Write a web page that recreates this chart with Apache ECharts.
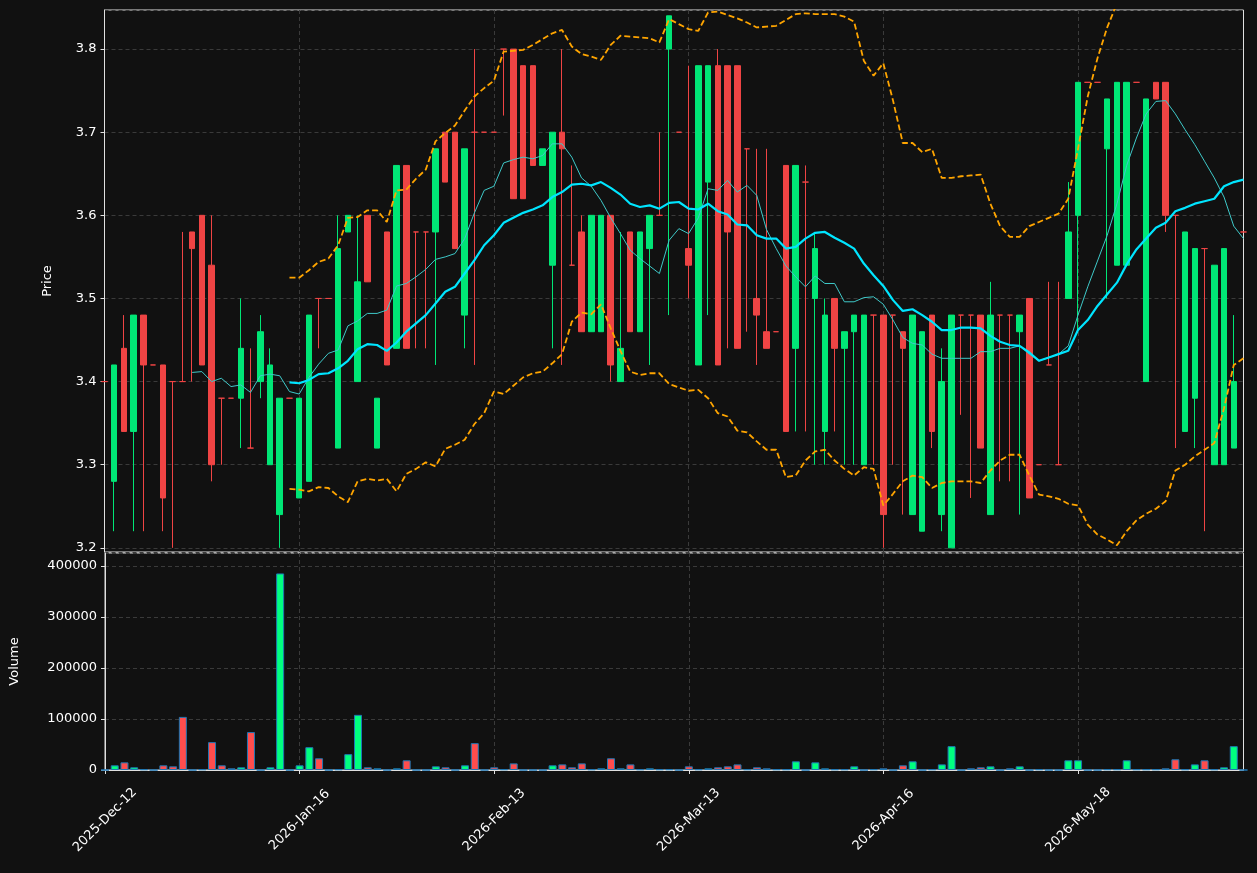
<!DOCTYPE html>
<html><head><meta charset="utf-8">
<script src="https://cdn.jsdelivr.net/npm/echarts@6/dist/echarts.min.js"></script>
<style>html,body{margin:0;padding:0;background:#111111;}#c{width:1257px;height:873px;}</style>
</head><body><div id="c"></div>
<script>
const tickIndex = [0, 20, 40, 60, 80, 100];
const tickLabels = ['2025-Dec-12','2026-Jan-16','2026-Feb-13','2026-Mar-13','2026-Apr-16','2026-May-18'];

const opens = [3.40,3.42,3.34,3.48,3.42,3.42,3.26,3.40,3.40,3.56,3.42,3.30,3.38,3.38,3.44,3.32,3.46,3.42,3.38,3.38,
3.38,3.48,3.50,3.50,3.56,3.60,3.52,3.52,3.38,3.42,3.66,3.44,3.58,3.58,3.68,3.64,3.56,3.68,3.70,3.70,
3.70,3.80,3.62,3.62,3.66,3.68,3.70,3.68,3.54,3.46,3.60,3.60,3.42,3.44,3.46,3.58,3.60,3.60,3.84,3.70,
3.54,3.78,3.78,3.42,3.58,3.44,3.68,3.48,3.44,3.46,3.34,3.66,3.64,3.56,3.48,3.44,3.46,3.48,3.48,3.48,
3.24,3.48,3.44,3.48,3.46,3.34,3.40,3.48,3.48,3.48,3.32,3.48,3.48,3.48,3.48,3.26,3.30,3.42,3.30,3.58,
3.76,3.76,3.76,3.74,3.76,3.76,3.76,3.74,3.74,3.60,3.60,3.58,3.56,3.56,3.54,3.56,3.40,3.58];
const closes = [3.40,3.28,3.44,3.34,3.48,3.42,3.42,3.40,3.40,3.58,3.60,3.54,3.38,3.38,3.38,3.32,3.40,3.30,3.24,3.38,
3.26,3.28,3.50,3.50,3.32,3.58,3.40,3.60,3.32,3.58,3.44,3.66,3.58,3.58,3.58,3.70,3.70,3.48,3.70,3.70,
3.70,3.80,3.80,3.78,3.78,3.66,3.54,3.70,3.54,3.58,3.46,3.46,3.60,3.40,3.58,3.46,3.56,3.60,3.80,3.70,
3.56,3.42,3.64,3.78,3.78,3.78,3.68,3.50,3.46,3.46,3.66,3.44,3.64,3.50,3.34,3.50,3.44,3.46,3.30,3.48,
3.48,3.48,3.46,3.24,3.22,3.48,3.24,3.20,3.48,3.48,3.48,3.24,3.48,3.48,3.46,3.50,3.30,3.42,3.30,3.50,
3.60,3.76,3.76,3.68,3.54,3.54,3.76,3.40,3.76,3.76,3.60,3.34,3.38,3.56,3.30,3.30,3.32,3.58];
const lows = [3.40,3.22,3.34,3.22,3.22,3.42,3.22,3.20,3.40,3.40,3.42,3.28,3.30,3.38,3.32,3.32,3.38,3.30,3.20,3.38,
3.26,3.28,3.44,3.50,3.32,3.58,3.40,3.52,3.32,3.42,3.44,3.44,3.44,3.44,3.42,3.64,3.56,3.44,3.42,3.70,
3.70,3.72,3.62,3.62,3.66,3.66,3.44,3.42,3.54,3.46,3.46,3.46,3.40,3.40,3.46,3.46,3.42,3.60,3.48,3.70,
3.50,3.42,3.48,3.42,3.44,3.44,3.46,3.42,3.44,3.46,3.34,3.34,3.34,3.30,3.30,3.34,3.30,3.30,3.30,3.30,
3.20,3.30,3.24,3.24,3.22,3.32,3.22,3.20,3.36,3.26,3.32,3.24,3.28,3.28,3.24,3.26,3.30,3.42,3.30,3.50,
3.46,3.76,3.76,3.50,3.54,3.54,3.76,3.40,3.74,3.58,3.32,3.34,3.32,3.22,3.30,3.30,3.32,3.58];
const highs = [3.40,3.42,3.48,3.48,3.48,3.42,3.42,3.40,3.58,3.58,3.60,3.60,3.38,3.38,3.50,3.44,3.48,3.44,3.38,3.38,
3.38,3.48,3.50,3.50,3.60,3.60,3.60,3.60,3.38,3.58,3.66,3.66,3.58,3.58,3.68,3.70,3.70,3.68,3.80,3.70,
3.70,3.80,3.80,3.78,3.78,3.68,3.70,3.80,3.66,3.60,3.60,3.60,3.60,3.58,3.58,3.58,3.60,3.70,3.84,3.70,
3.78,3.78,3.78,3.80,3.78,3.78,3.68,3.68,3.68,3.46,3.66,3.66,3.66,3.58,3.50,3.50,3.46,3.48,3.48,3.48,
3.48,3.48,3.46,3.48,3.46,3.48,3.44,3.48,3.48,3.48,3.48,3.52,3.48,3.48,3.48,3.50,3.30,3.52,3.52,3.64,
3.76,3.76,3.76,3.74,3.76,3.76,3.76,3.74,3.76,3.76,3.60,3.58,3.56,3.56,3.54,3.56,3.48,3.58];
const volumes = [0,9200,15000,5300,1300,0,9200,7200,104000,0,1300,54600,9200,3300,5300,74300,0,5300,385000,0,
9200,44700,23000,0,1300,31000,108000,5300,3300,0,3300,19000,0,0,7200,5300,0,9200,52600,0,
5300,1300,13000,0,0,0,9200,11000,5300,13000,1300,3300,23000,3300,11000,1300,3300,1300,1300,0,
7200,1300,3300,5300,7200,11000,1300,5300,3300,1300,1300,17000,0,15000,3300,1300,1300,7200,0,1300,
3300,0,9200,17000,0,1300,11000,46700,0,3300,5300,7200,0,3300,7200,0,1300,0,0,19000,
19000,0,0,1300,1300,19000,1300,1300,1300,3300,21000,1300,11000,19000,1300,5300,46700,0];

// indicator lines (start index noted)
const ma10Start = 9;
const ma10 = [3.411,3.412,3.400,3.404,3.394,3.396,3.387,3.407,3.409,3.407,3.388,3.385,3.405,3.421,3.434,3.438,3.467,3.473,3.482,3.482,
3.486,3.515,3.518,3.526,3.535,3.547,3.550,3.554,3.572,3.603,3.630,3.635,3.663,3.667,3.670,3.668,3.672,3.686,3.686,3.670,
3.645,3.635,3.618,3.597,3.578,3.558,3.548,3.539,3.530,3.570,3.584,3.578,3.597,3.632,3.630,3.642,3.628,3.636,3.624,3.583,
3.560,3.539,3.526,3.514,3.527,3.518,3.518,3.496,3.496,3.501,3.502,3.493,3.474,3.453,3.446,3.444,3.433,3.428,3.428,3.428,
3.428,3.436,3.436,3.440,3.440,3.443,3.433,3.425,3.429,3.433,3.443,3.480,3.514,3.545,3.576,3.614,3.660,3.693,3.722,3.737,
3.738,3.722,3.703,3.685,3.665,3.645,3.622,3.587,3.572];
const bandStart = 19;
const ma20 = [3.399,3.398,3.402,3.409,3.410,3.416,3.425,3.439,3.445,3.444,3.437,3.447,3.460,3.470,3.480,3.494,3.508,3.514,3.530,3.546,
3.564,3.576,3.591,3.597,3.603,3.607,3.612,3.622,3.628,3.637,3.638,3.636,3.640,3.633,3.625,3.614,3.610,3.612,3.608,3.615,
3.616,3.608,3.607,3.614,3.605,3.601,3.589,3.588,3.576,3.572,3.572,3.560,3.562,3.572,3.579,3.580,3.573,3.567,3.560,3.542,
3.528,3.515,3.498,3.485,3.487,3.480,3.472,3.462,3.462,3.465,3.465,3.464,3.455,3.448,3.444,3.443,3.435,3.425,3.429,3.433,
3.437,3.462,3.474,3.491,3.505,3.519,3.541,3.559,3.572,3.585,3.591,3.605,3.609,3.614,3.617,3.620,3.635,3.640,3.643];
const upperBand = [3.525,3.525,3.534,3.544,3.548,3.564,3.597,3.598,3.606,3.606,3.592,3.630,3.631,3.644,3.655,3.689,3.699,3.708,3.726,3.743,
3.753,3.762,3.797,3.798,3.799,3.805,3.812,3.819,3.823,3.803,3.794,3.791,3.787,3.805,3.816,3.815,3.814,3.813,3.808,3.836,
3.830,3.824,3.822,3.844,3.845,3.841,3.837,3.832,3.826,3.827,3.828,3.835,3.842,3.843,3.842,3.842,3.842,3.839,3.833,3.786,
3.768,3.783,3.738,3.687,3.687,3.676,3.680,3.645,3.645,3.647,3.648,3.649,3.614,3.587,3.574,3.574,3.587,3.592,3.597,3.602,
3.620,3.680,3.743,3.789,3.826,3.855,3.862,3.886,3.903,3.923,3.927,3.917,3.918,3.919,3.916,3.914,3.902,3.860,3.858];
const lowerBand = [3.271,3.270,3.268,3.273,3.272,3.262,3.255,3.280,3.283,3.281,3.283,3.268,3.289,3.295,3.303,3.298,3.319,3.324,3.330,3.349,
3.362,3.388,3.385,3.395,3.405,3.410,3.412,3.422,3.433,3.472,3.483,3.481,3.493,3.464,3.437,3.412,3.408,3.410,3.410,3.397,
3.393,3.389,3.390,3.380,3.362,3.358,3.341,3.339,3.328,3.318,3.318,3.285,3.287,3.305,3.316,3.318,3.305,3.295,3.287,3.297,
3.295,3.251,3.265,3.280,3.287,3.285,3.272,3.278,3.280,3.280,3.280,3.278,3.293,3.305,3.312,3.312,3.287,3.264,3.262,3.259,
3.253,3.251,3.228,3.216,3.210,3.203,3.220,3.233,3.241,3.247,3.256,3.293,3.300,3.310,3.318,3.326,3.368,3.420,3.428];

const N = opens.length;
const RED = '#ef4444', GREEN = '#00e676';
const VRED = '#ff4d4d', VGREEN = '#00ff7f';
const cats = opens.map((_, i) => { const k = tickIndex.indexOf(i); return k >= 0 ? tickLabels[k] : 'c' + i; });
const pad = (start, arr) => new Array(start).fill('-').concat(arr);
const candles = opens.map((o, i) => {
  const item = { value: [o, closes[i], lows[i], highs[i]] };
  if (o === closes[i]) item.itemStyle = { color: RED, color0: RED, borderColor: RED, borderColor0: RED };
  return item;
});
const vols = volumes.map((v, i) => ({ value: v, itemStyle: { color: closes[i] >= opens[i] ? VRED : VGREEN } }));
const isTick = (i) => tickIndex.indexOf(i) >= 0;
const gridLine = { show: true, lineStyle: { color: '#3a3a3a', type: [4, 3], width: 1 } };
const axisTxt = { color: '#ffffff', fontSize: 13, fontFamily: 'DejaVu Sans' };

const chart = echarts.init(document.getElementById('c'));
chart.setOption({
  backgroundColor: '#111111',
  animation: false,
  grid: [
    { left: 104.5, right: 13.5, top: 10, height: 542, show: true, borderColor: '#e0e0e0', borderWidth: 1 },
    { left: 104.5, right: 13.5, top: 553, height: 217, show: true, borderColor: '#e0e0e0', borderWidth: 1 }
  ],
  xAxis: [
    { type: 'category', gridIndex: 0, data: cats, boundaryGap: false,
      axisLine: { show: false }, axisTick: { show: false }, axisLabel: { show: false },
      splitLine: Object.assign({ interval: (i) => isTick(i) }, gridLine) },
    { type: 'category', gridIndex: 1, data: cats, boundaryGap: false,
      axisLine: { show: true, lineStyle: { color: '#e0e0e0' } },
      axisTick: { show: true, interval: (i) => isTick(i), length: 4, lineStyle: { color: '#e0e0e0' } },
      axisLabel: Object.assign({ interval: (i) => isTick(i), rotate: 45, margin: 50, align: 'center', verticalAlign: 'middle' }, axisTxt),
      splitLine: Object.assign({ interval: (i) => isTick(i) }, gridLine) }
  ],
  yAxis: [
    { type: 'value', gridIndex: 0, min: 3.195, max: 3.847, splitNumber: 7, scale: true,
      name: 'Price', nameLocation: 'middle', nameGap: 50, nameTextStyle: axisTxt,
      axisLine: { show: true, lineStyle: { color: '#e0e0e0' } },
      axisTick: { show: true, length: 4, lineStyle: { color: '#e0e0e0' } },
      axisLabel: Object.assign({ showMinLabel: false, showMaxLabel: false, formatter: (v) => v.toFixed(1) }, axisTxt),
      splitLine: gridLine },
    { type: 'value', gridIndex: 1, min: 0, max: 425000, interval: 100000,
      name: 'Volume', nameLocation: 'middle', nameGap: 84, nameTextStyle: axisTxt,
      axisLine: { show: true, lineStyle: { color: '#e0e0e0' } },
      axisTick: { show: true, length: 4, lineStyle: { color: '#e0e0e0' } },
      axisLabel: Object.assign({ showMaxLabel: false, formatter: (v) => String(v) }, axisTxt),
      splitLine: gridLine }
  ],
  series: [
    { type: 'candlestick', xAxisIndex: 0, yAxisIndex: 0, data: candles, barWidth: 6, clip: false,
      itemStyle: { color: RED, color0: GREEN, borderColor: RED, borderColor0: GREEN, borderWidth: 1 } },
    { type: 'line', xAxisIndex: 0, yAxisIndex: 0, data: pad(ma10Start, ma10), symbol: 'none',
      lineStyle: { color: '#3fc9c9', width: 1 } },
    { type: 'line', xAxisIndex: 0, yAxisIndex: 0, data: pad(bandStart, ma20), symbol: 'none',
      lineStyle: { color: '#00e5ff', width: 2.2 } },
    { type: 'line', xAxisIndex: 0, yAxisIndex: 0, data: pad(bandStart, upperBand), symbol: 'none', clip: true,
      lineStyle: { color: '#ffa500', width: 1.8, type: [6, 3] } },
    { type: 'line', xAxisIndex: 0, yAxisIndex: 0, data: pad(bandStart, lowerBand), symbol: 'none', clip: true,
      lineStyle: { color: '#ffa500', width: 1.8, type: [6, 3] } },
    { type: 'bar', xAxisIndex: 1, yAxisIndex: 1, data: vols, barWidth: 8,
      itemStyle: { borderColor: '#1f77b4', borderWidth: 1 } }
  ]
});
</script></body></html>
